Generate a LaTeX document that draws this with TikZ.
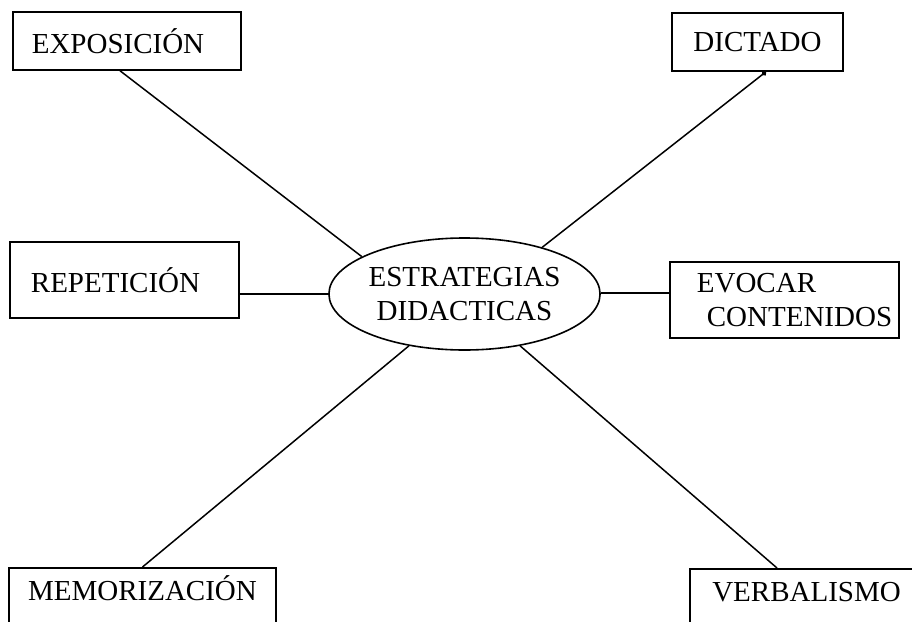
\documentclass[tikz,border=0pt]{standalone}
\usepackage{fontspec}
\setmainfont{Liberation Serif}
\usetikzlibrary{shapes.geometric,arrows.meta}

\begin{document}
\begin{tikzpicture}[
    x=1pt, y=-1pt,
    box/.style={rectangle, draw=black, line width=1.5pt, inner sep=0pt, font=\fontsize{29}{34}\selectfont},
    centre/.style={ellipse, draw=black, line width=1.6pt, inner sep=0pt, minimum width=265pt, minimum height=112pt, align=center, font=\fontsize{29}{34}\selectfont},
    link/.style={line width=1.5pt}
]
\useasboundingbox (0,0) rectangle (912,621);
\clip (0,0) rectangle (912,621);

\node[centre] (strat) at (464.5,294) {ESTRATEGIAS\\DIDACTICAS};

\node[box, minimum width=228pt, minimum height=58pt] (expo) at (127,41) {EXPOSICIÓN\hspace*{18pt}};
\node[box, minimum width=171pt, minimum height=58pt] (dict) at (757.5,42) {DICTADO};
\node[box, minimum width=229pt, minimum height=76pt] (repet) at (124.5,280) {REPETICIÓN\hspace*{18pt}};
\node[box, minimum width=229pt, minimum height=76pt, align=left] (evoc) at (784.5,300)
    {\hspace*{20pt}EVOCAR\\\hspace*{30pt}CONTENIDOS};
\node[box, anchor=north, minimum width=267pt, inner ysep=13pt, text height=20pt, text depth=40pt] (memo) at (142.5,567) {MEMORIZACIÓN};
\node[box, anchor=north, minimum width=233pt, inner ysep=13pt, text height=20pt, text depth=40pt] (verb) at (806.5,568) {VERBALISMO};

\draw[link] ([xshift=-7pt]expo.south) -- (strat.160);
\draw[link, {Circle[length=5pt]}-] ([xshift=8.5pt]dict.south) -- (strat.31);
\draw[link] (repet.east |- strat.west) -- (strat.west);
\draw[link] ([yshift=1pt]strat.east) -- ([yshift=1pt]strat.east -| evoc.west);
\draw[link] (memo.north) -- (strat.223);
\draw[link] ([xshift=-29.5pt]verb.north) -- (strat.317);

\end{tikzpicture}
\end{document}
